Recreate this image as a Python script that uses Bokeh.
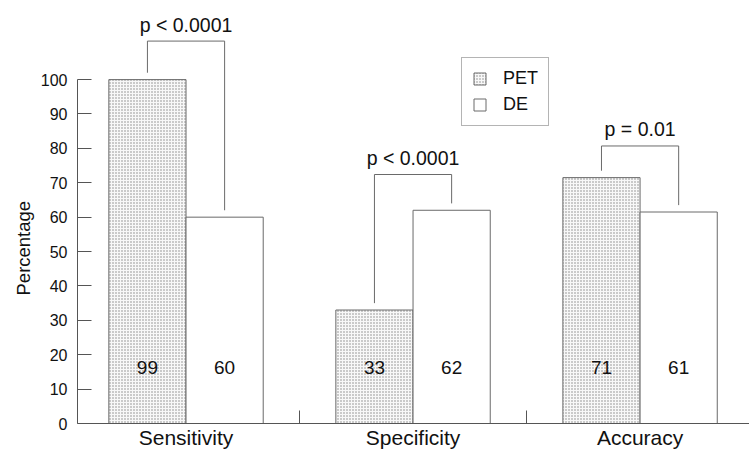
from bokeh.plotting import figure
from bokeh.models import Range1d, FixedTicker, LinearAxis, Legend, LegendItem, Title
from bokeh.core.properties import value
from bokeh.embed import file_html
from bokeh.resources import INLINE

# ---- data ----
categories = ["Sensitivity", "Specificity", "Accuracy"]
pet_bar = [100, 33, 71.5]        # drawn bar heights (%)
de_bar = [60, 62, 61.5]
pet_label = ["99", "33", "71"]   # printed values
de_label = ["60", "62", "61"]
p_texts = ["p < 0.0001", "p < 0.0001", "p = 0.01"]
bracket_top = [111.2, 72.4, 80.7]
y_ticks = [0, 10, 20, 30, 40, 50, 60, 70, 80, 90, 100]

FONT = "Liberation Sans"
BW = 0.34
GAP = 2.0
centers = [i + 0.5 for i in range(len(categories))]
separators = [i for i in range(1, len(categories))]
AXIS_C = "#555555"
BAR_C = "#6a6a6a"
TXT_C = "#111111"

p = figure(width=749, height=451,
           x_range=Range1d(0.022, 2.982), y_range=Range1d(0, 123.0),
           output_backend="svg", toolbar_location=None,
           x_axis_type=None, y_axis_type=None,
           min_border_left=77, min_border_right=0,
           min_border_top=0, min_border_bottom=26)
p.outline_line_color = None
p.background_fill_color = "white"

# y axis
yaxis = LinearAxis(ticker=FixedTicker(ticks=y_ticks, minor_ticks=[]),
                   bounds=(0, 100),
                   major_tick_in=14, major_tick_out=0,
                   minor_tick_in=0, minor_tick_out=0,
                   major_label_standoff=10,
                   axis_line_color=AXIS_C, major_tick_line_color=AXIS_C,
                   major_label_text_font=FONT, major_label_text_font_size="16px",
                   major_label_text_color=TXT_C)
p.add_layout(yaxis, "left")

# y axis title (starts near the 25% level, as in the reference)
p.add_layout(Title(text="Percentage", align="left", offset=128,
                   text_font=FONT, text_font_size="18.5px",
                   text_font_style="normal", text_color=TXT_C,
                   standoff=7), "left")

# x axis: names at category centres, separator ticks between categories
xaxis = LinearAxis(ticker=FixedTicker(ticks=centers, minor_ticks=separators),
                   major_tick_in=0, major_tick_out=0,
                   minor_tick_in=13, minor_tick_out=0,
                   major_label_standoff=2,
                   major_label_overrides={c: n for c, n in zip(centers, categories)},
                   axis_line_color=AXIS_C, minor_tick_line_color=AXIS_C,
                   major_label_text_font=FONT, major_label_text_font_size="21px",
                   major_label_text_color=TXT_C)
p.add_layout(xaxis, "below")

r_pet = p.vbar(x=[c - BW / 2 for c in centers], width=BW, top=pet_bar, bottom=0,
               fill_color="#f8f8f8", hatch_pattern="dot", hatch_scale=3,
               hatch_color="#222222", hatch_weight=1, hatch_alpha=0.55,
               line_color=BAR_C, line_width=1)
r_de = p.vbar(x=[c + BW / 2 for c in centers], width=BW, top=de_bar, bottom=0,
              fill_color="white", line_color=BAR_C, line_width=1)

# value labels inside bars
p.text(x=[c - BW / 2 for c in centers], y=[0] * 3, text=pet_label,
       text_align="center", text_baseline="middle", y_offset=-56.5,
       text_font=value(FONT), text_font_size="19px", text_color=TXT_C)
p.text(x=[c + BW / 2 for c in centers], y=[0] * 3, text=de_label,
       text_align="center", text_baseline="middle", y_offset=-56.5,
       text_font=value(FONT), text_font_size="19px", text_color=TXT_C)

# significance brackets
xs, ys = [], []
for c, a, b, t in zip(centers, pet_bar, de_bar, bracket_top):
    xs.append([c - BW / 2, c - BW / 2, c + BW / 2, c + BW / 2])
    ys.append([a + GAP, t, t, b + GAP])
p.multi_line(xs=xs, ys=ys, line_color=BAR_C, line_width=1)
p.text(x=centers, y=bracket_top, text=p_texts,
       text_align="center", text_baseline="middle", y_offset=-16.5,
       text_font=value(FONT), text_font_size="19.5px", text_color=TXT_C)

legend = Legend(items=[LegendItem(label="PET", renderers=[r_pet]),
                       LegendItem(label="DE", renderers=[r_de])],
                location=(384, 297), padding=10, spacing=5, margin=0,
                glyph_width=15, glyph_height=15, label_standoff=16, label_height=15,
                border_line_color=BAR_C, border_line_width=1,
                background_fill_color="white", background_fill_alpha=1,
                label_text_font=FONT, label_text_font_size="18px",
                label_text_color=TXT_C)
p.add_layout(legend)

open("out.html", "w").write(file_html(p, INLINE))
